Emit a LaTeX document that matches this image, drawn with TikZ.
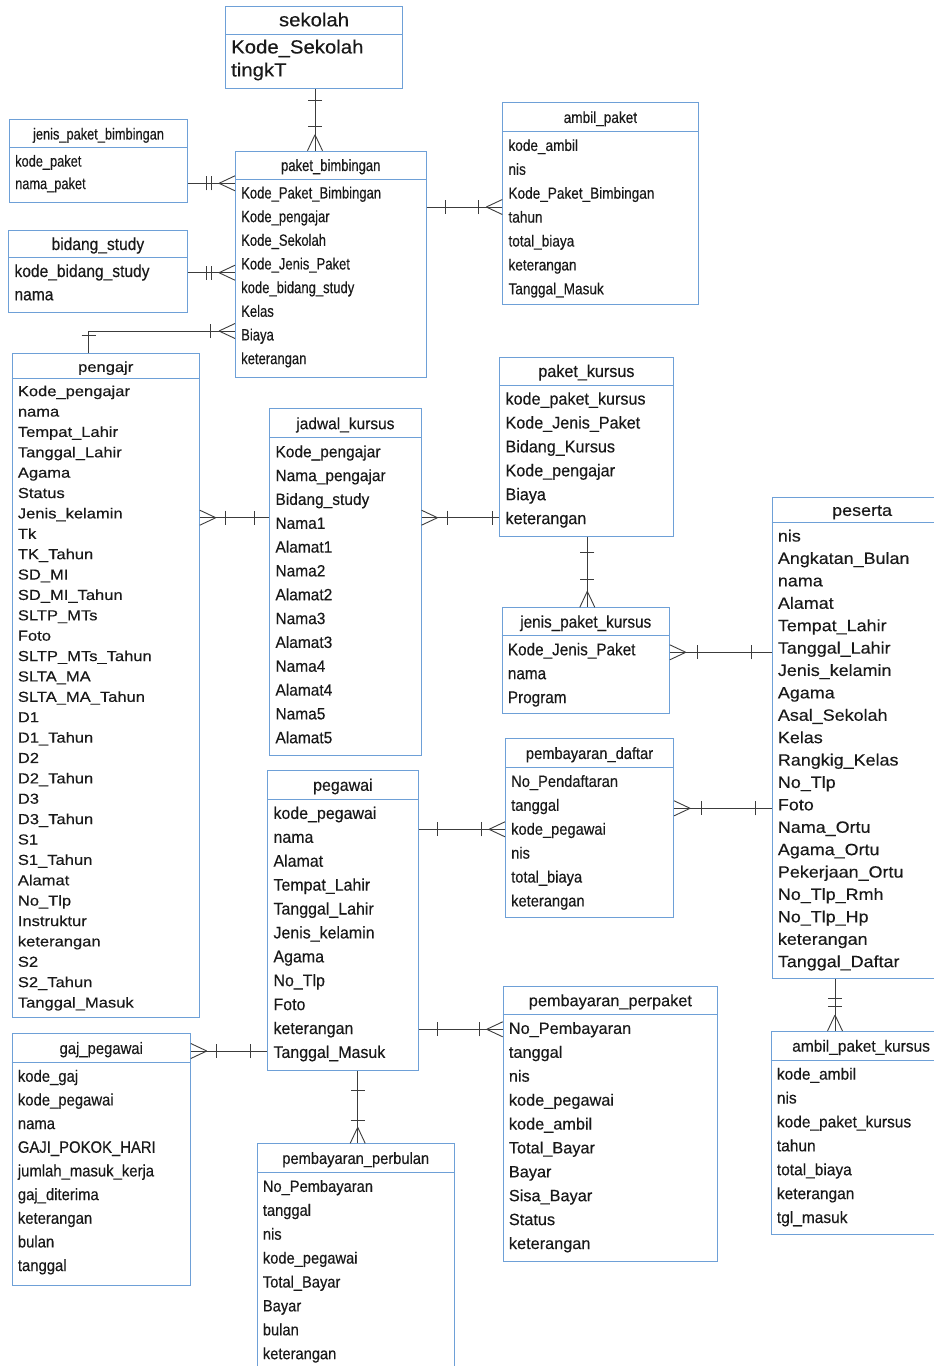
\documentclass[tikz,border=0pt]{standalone}
\usepackage{fontspec}
\setmainfont{Liberation Sans}
\newfontfamily\fsA[FakeStretch=0.80,FakeBold=0.3]{Liberation Sans}
\newfontfamily\fsB[FakeStretch=0.85,FakeBold=0.3]{Liberation Sans}
\newfontfamily\fsC[FakeStretch=0.90,FakeBold=0.3]{Liberation Sans}
\newfontfamily\fsD[FakeStretch=0.95,FakeBold=0.3]{Liberation Sans}
\newfontfamily\fsE[FakeStretch=1.00,FakeBold=0.3]{Liberation Sans}
\newfontfamily\fsF[FakeStretch=1.07,FakeBold=0.3]{Liberation Sans}
\newfontfamily\fsG[FakeStretch=1.10,FakeBold=0.3]{Liberation Sans}
\newfontfamily\fsH[FakeStretch=1.14,FakeBold=0.3]{Liberation Sans}
\usetikzlibrary{calc}
\definecolor{boxc}{RGB}{110,160,215}
\definecolor{linec}{RGB}{60,60,60}
\definecolor{txtc}{RGB}{25,25,25}
\def\hd{29}
\tikzset{
  ebox/.style={draw=boxc, line width=0.8pt, inner sep=0pt, fill=white},
  eline/.style={draw=boxc, line width=0.8pt},
  efont/.style={font=\fsE\fontsize{16}{16}\selectfont},
  etitle/.style={efont, text=txtc, inner sep=0pt, anchor=mid},
  erow/.style={efont, text=txtc, inner sep=0pt, anchor=mid west},
  conn/.style={draw=linec, line width=0.9pt},
}
% [opts]{name}{x,y}{w}{h}{step}{title}{rows}
\newcommand{\ent}[8][]{%
  \begin{scope}[#1]
    \node[ebox, minimum width=#4, minimum height=#5, anchor=north west] (#2) at (#3) {};
    \draw[eline] ($(#2.north west)+(0,\hd)$) -- ($(#2.north east)+(0,\hd)$);
    \node[etitle] (#2-t) at ($(#2.north)+(0,{\hd/2+3.5})$) {#7};
    \foreach \rw [count=\idx] in {#8}
      \node[erow] (#2-\idx) at ($(#2.north west)+(6,{\hd+5+(\idx-0.5)*#6})$) {\rw};
  \end{scope}}
\newcommand{\crowat}[2]{%
  \draw[conn] ($(#1)!16pt!(#2)$) -- ($(#1)!7.5pt!90:(#2)$)
              ($(#1)!16pt!(#2)$) -- ($(#1)!7.5pt!-90:(#2)$);}
\newcommand{\tickat}[3]{%
  \draw[conn] ($(#1)!#3!(#2)!7pt!90:(#2)$) -- ($(#1)!#3!(#2)!7pt!-90:(#2)$);}
\begin{document}
\begin{tikzpicture}[x=1pt,y=-1pt]
\useasboundingbox (0,0) rectangle (934,1366);
\fill[white] (0,0) rectangle (934,1366);

\ent[/utils/exec={\def\hd{28.3}}, efont/.style={font=\fsF\fontsize{19}{19}\selectfont}]
  {sekolah}{225,6}{177.3}{82.3}{23}{sekolah}
  {Kode\_Sekolah, tingkT}

\ent[/utils/exec={\def\hd{28.7}}, efont/.style={font=\fsA\fontsize{16}{16}\selectfont}]
  {jpb}{9,119}{178.3}{82.7}{22.5}{jenis\_paket\_bimbingan}
  {kode\_paket, nama\_paket}

\ent[/utils/exec={\def\hd{28.3}}, efont/.style={font=\fsA\fontsize{16.3}{16}\selectfont}]
  {pb}{235,150.7}{190.7}{226}{23.66}{paket\_bimbingan}
  {Kode\_Paket\_Bimbingan, Kode\_pengajar, Kode\_Sekolah, Kode\_Jenis\_Paket, kode\_bidang\_study, Kelas, Biaya, keterangan}

\ent[/utils/exec={\def\hd{27.7}}, efont/.style={font=\fsC\fontsize{17.3}{17}\selectfont}]
  {bs}{8.3,230}{178.4}{81.7}{23.3}{bidang\_study}
  {kode\_bidang\_study, nama}

\ent[/utils/exec={\def\hd{29}}, efont/.style={font=\fsB\fontsize{16}{16}\selectfont}]
  {ap}{502.3,102.3}{195.4}{202}{23.9}{ambil\_paket}
  {kode\_ambil, nis, Kode\_Paket\_Bimbingan, tahun, total\_biaya, keterangan, Tanggal\_Masuk}

\ent[/utils/exec={\def\hd{25}}, efont/.style={font=\fsH\fontsize{14.5}{15}\selectfont}]
  {pengajr}{11.7,353.3}{187.3}{663.4}{20.38}{pengajr}
  {Kode\_pengajar, nama, Tempat\_Lahir, Tanggal\_Lahir, Agama, Status, Jenis\_kelamin, Tk, TK\_Tahun, SD\_MI, SD\_MI\_Tahun, SLTP\_MTs, Foto, SLTP\_MTs\_Tahun, SLTA\_MA, SLTA\_MA\_Tahun, D1, D1\_Tahun, D2, D2\_Tahun, D3, D3\_Tahun, S1, S1\_Tahun, Alamat, No\_Tlp, Instruktur, keterangan, S2, S2\_Tahun, Tanggal\_Masuk}

\ent[/utils/exec={\def\hd{29.4}}, efont/.style={font=\fsD\fontsize{16.3}{16}\selectfont}]
  {jk}{269.3,408.3}{151.4}{346.7}{23.83}{jadwal\_kursus}
  {Kode\_pengajar, Nama\_pengajar, Bidang\_study, Nama1, Alamat1, Nama2, Alamat2, Nama3, Alamat3, Nama4, Alamat4, Nama5, Alamat5}

\ent[/utils/exec={\def\hd{28.3}}, efont/.style={font=\fsD\fontsize{17}{17}\selectfont}]
  {pk}{499.3,356.7}{173.4}{179}{23.9}{paket\_kursus}
  {kode\_paket\_kursus, Kode\_Jenis\_Paket, Bidang\_Kursus, Kode\_pengajar, Biaya, keterangan}

\ent[/utils/exec={\def\hd{28.4}}, efont/.style={font=\fsC\fontsize{17}{17}\selectfont}]
  {jpk}{501.7,607.3}{167.3}{106}{23.9}{jenis\_paket\_kursus}
  {Kode\_Jenis\_Paket, nama, Program}

\ent[/utils/exec={\def\hd{26}}, efont/.style={font=\fsG\fontsize{16.3}{16}\selectfont}]
  {peserta}{771.7,496.7}{180}{481}{22.4}{peserta}
  {nis, Angkatan\_Bulan, nama, Alamat, Tempat\_Lahir, Tanggal\_Lahir, Jenis\_kelamin, Agama, Asal\_Sekolah, Kelas, Rangkig\_Kelas, No\_Tlp, Foto, Nama\_Ortu, Agama\_Ortu, Pekerjaan\_Ortu, No\_Tlp\_Rmh, No\_Tlp\_Hp, keterangan, Tanggal\_Daftar}

\ent[/utils/exec={\def\hd{29}}, efont/.style={font=\fsC\fontsize{16.3}{16}\selectfont}]
  {pd}{505,738.3}{168.3}{179}{23.9}{pembayaran\_daftar}
  {No\_Pendaftaran, tanggal, kode\_pegawai, nis, total\_biaya, keterangan}

\ent[/utils/exec={\def\hd{29.3}}, efont/.style={font=\fsD\fontsize{16.8}{17}\selectfont}]
  {pegawai}{267.3,770}{150.4}{300}{23.9}{pegawai}
  {kode\_pegawai, nama, Alamat, Tempat\_Lahir, Tanggal\_Lahir, Jenis\_kelamin, Agama, No\_Tlp, Foto, keterangan, Tanggal\_Masuk}

\ent[/utils/exec={\def\hd{29}}, efont/.style={font=\fsC\fontsize{16.5}{16}\selectfont}]
  {gaj}{11.7,1033.3}{178.3}{251.7}{23.66}{gaj\_pegawai}
  {kode\_gaj, kode\_pegawai, nama, GAJI\_POKOK\_HARI, jumlah\_masuk\_kerja, gaj\_diterima, keterangan, bulan, tanggal}

\ent[/utils/exec={\def\hd{29}}, efont/.style={font=\fsC\fontsize{16.3}{16}\selectfont}]
  {ppb}{256.7,1143.3}{197.3}{240}{23.9}{pembayaran\_perbulan}
  {No\_Pembayaran, tanggal, nis, kode\_pegawai, Total\_Bayar, Bayar, bulan, keterangan}

\ent[/utils/exec={\def\hd{28.6}}, efont/.style={font=\fsE\fontsize{16.3}{16}\selectfont}]
  {ppp}{502.7,985.7}{214.6}{275.3}{23.9}{pembayaran\_perpaket}
  {No\_Pembayaran, tanggal, nis, kode\_pegawai, kode\_ambil, Total\_Bayar, Bayar, Sisa\_Bayar, Status, keterangan}

\ent[/utils/exec={\def\hd{29}}, efont/.style={font=\fsD\fontsize{16.3}{16}\selectfont}]
  {apk}{770.7,1031}{180}{203.3}{23.9}{ambil\_paket\_kursus}
  {kode\_ambil, nis, kode\_paket\_kursus, tahun, total\_biaya, keterangan, tgl\_masuk}

% ---------- connectors ----------
% sekolah - paket_bimbingan
\coordinate (c1a) at ($(sekolah.south west)+(90,0)$);
\coordinate (c1b) at ($(pb.north west)+(80,0)$);
\draw[conn] (c1a) -- (c1b);
\tickat{c1a}{c1b}{11pt}\tickat{c1b}{c1a}{24pt}\crowat{c1b}{c1a}
% jenis_paket_bimbingan - paket_bimbingan
\coordinate (c2a) at ($(jpb.north east)+(0,64.3)$);
\coordinate (c2b) at ($(pb.north west)+(0,32.6)$);
\draw[conn] (c2a) -- (c2b);
\tickat{c2b}{c2a}{23.3pt}\tickat{c2b}{c2a}{28.3pt}\crowat{c2b}{c2a}
% bidang_study - paket_bimbingan
\coordinate (c3a) at ($(bs.north east)+(0,42.7)$);
\coordinate (c3b) at ($(pb.north west)+(0,122)$);
\draw[conn] (c3a) -- (c3b);
\tickat{c3b}{c3a}{24pt}\tickat{c3b}{c3a}{29pt}\crowat{c3b}{c3a}
% pengajr - paket_bimbingan
\coordinate (c4a) at ($(pengajr.north west)+(77,0)$);
\coordinate (c4b) at ($(pb.north west)+(0,180.3)$);
\coordinate (c4m) at (c4a |- c4b);
\draw[conn] (c4a) -- (c4m) -- (c4b);
\tickat{c4a}{c4m}{18pt}\tickat{c4b}{c4m}{25pt}\crowat{c4b}{c4m}
% paket_bimbingan - ambil_paket
\coordinate (c5a) at ($(pb.north east)+(0,56.3)$);
\coordinate (c5b) at ($(ap.north west)+(0,104.7)$);
\draw[conn] (c5a) -- (c5b);
\tickat{c5a}{c5b}{19.3pt}\tickat{c5b}{c5a}{24pt}\crowat{c5b}{c5a}
% pengajr - jadwal_kursus
\coordinate (c6a) at ($(pengajr.north east)+(0,164.4)$);
\coordinate (c6b) at ($(jk.north west)+(0,109.4)$);
\draw[conn] (c6a) -- (c6b);
\crowat{c6a}{c6b}\tickat{c6a}{c6b}{26pt}\tickat{c6b}{c6a}{15.3pt}
% jadwal_kursus - paket_kursus
\coordinate (c7a) at ($(jk.north east)+(0,109.4)$);
\coordinate (c7b) at ($(pk.north west)+(0,161)$);
\draw[conn] (c7a) -- (c7b);
\crowat{c7a}{c7b}\tickat{c7a}{c7b}{26pt}\tickat{c7b}{c7a}{7pt}
% paket_kursus - jenis_paket_kursus
\coordinate (c8a) at ($(pk.south west)+(88,0)$);
\coordinate (c8b) at ($(jpk.north west)+(85.6,0)$);
\draw[conn] (c8a) -- (c8b);
\tickat{c8a}{c8b}{16pt}\tickat{c8b}{c8a}{28pt}\crowat{c8b}{c8a}
% jenis_paket_kursus - peserta
\coordinate (c9a) at ($(jpk.north east)+(0,45)$);
\coordinate (c9b) at ($(peserta.north west)+(0,155.6)$);
\draw[conn] (c9a) -- (c9b);
\crowat{c9a}{c9b}\tickat{c9a}{c9b}{27.7pt}\tickat{c9b}{c9a}{20.7pt}
% pembayaran_daftar - peserta
\coordinate (c10a) at ($(pd.north east)+(0,70)$);
\coordinate (c10b) at ($(peserta.north west)+(0,311.6)$);
\draw[conn] (c10a) -- (c10b);
\crowat{c10a}{c10b}\tickat{c10a}{c10b}{27.4pt}\tickat{c10b}{c10a}{16.7pt}
% pegawai - pembayaran_daftar
\coordinate (c11a) at ($(pegawai.north east)+(0,59.3)$);
\coordinate (c11b) at ($(pd.north west)+(0,91)$);
\draw[conn] (c11a) -- (c11b);
\tickat{c11a}{c11b}{19pt}\tickat{c11b}{c11a}{24pt}\crowat{c11b}{c11a}
% pegawai - pembayaran_perpaket
\coordinate (c12a) at ($(pegawai.north east)+(0,259.3)$);
\coordinate (c12b) at ($(ppp.north west)+(0,43.6)$);
\draw[conn] (c12a) -- (c12b);
\tickat{c12a}{c12b}{19pt}\tickat{c12b}{c12a}{23pt}\crowat{c12b}{c12a}
% gaj_pegawai - pegawai
\coordinate (c13a) at ($(gaj.north east)+(0,17.7)$);
\coordinate (c13b) at ($(pegawai.north west)+(0,281)$);
\draw[conn] (c13a) -- (c13b);
\crowat{c13a}{c13b}\tickat{c13a}{c13b}{26pt}\tickat{c13b}{c13a}{16.6pt}
% pegawai - pembayaran_perbulan
\coordinate (c14a) at ($(pegawai.south west)+(90.4,0)$);
\coordinate (c14b) at ($(ppb.north west)+(101,0)$);
\draw[conn] (c14a) -- (c14b);
\tickat{c14a}{c14b}{19.3pt}\tickat{c14b}{c14a}{22.6pt}\crowat{c14b}{c14a}
% peserta - ambil_paket_kursus
\coordinate (c15a) at ($(peserta.south west)+(63.3,0)$);
\coordinate (c15b) at ($(apk.north west)+(64.3,0)$);
\draw[conn] (c15a) -- (c15b);
\tickat{c15b}{c15a}{25pt}\tickat{c15b}{c15a}{32.7pt}\crowat{c15b}{c15a}
\end{tikzpicture}
\end{document}
